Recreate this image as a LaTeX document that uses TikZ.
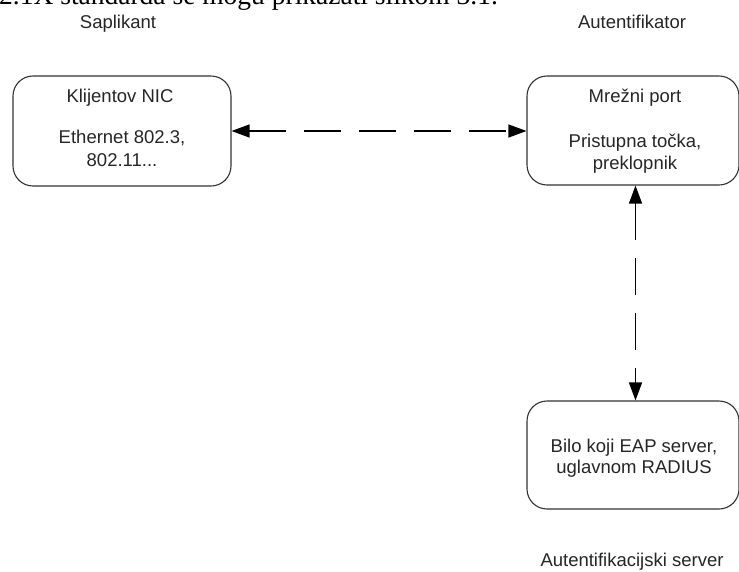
\documentclass[tikz,border=0pt]{standalone}
\usepackage{fontspec}
\setmainfont{Liberation Sans}
\newfontfamily\serifcap{Liberation Serif}
\usetikzlibrary{arrows.meta}
\tikzset{
  x=1pt, y=-1pt,
  boxshape/.style={draw=black!80, line width=1.1pt, rounded corners=20pt, inner sep=0pt},
  txt/.style={font=\fontsize{18.5}{22}\selectfont, text=black!85, inner sep=0pt, anchor=base},
  conn/.style={draw=black, line width=1.4pt, dash pattern=on 37pt off 18pt,
    {Triangle[length=18pt,width=13pt]}-{Triangle[length=18pt,width=13pt]}}
}
\begin{document}
\begin{tikzpicture}
\clip (0,0) rectangle (739,571);
\useasboundingbox (0,0) rectangle (739,571);
\fill[white] (0,0) rectangle (739,571);
% clipped running text from the page above
\node[font=\serifcap\fontsize{27.5}{31}\selectfont, inner sep=0pt, anchor=base west] (top) at (-1,4) {2.1X standarda se mogu prikazati slikom 3.1.};
% boxes
\node[boxshape, minimum width=218pt, minimum height=110pt] (sup) at (122,131) {};
\node[boxshape, minimum width=212pt, minimum height=109pt] (aut) at (633,130.5) {};
\node[boxshape, minimum width=212pt, minimum height=108pt] (srv) at (633,455) {};
% headings
\node[txt] (tsup) at (118,28) {Saplikant};
\node[txt] (taut) at (632,28) {Autentifikator};
\node[txt] (tsrv) at (632,566) {Autentifikacijski server};
% box texts
\node[txt] (s1) at (120,102) {Klijentov NIC};
\node[txt] (s2) at (122,143) {Ethernet 802.3,};
\node[txt] (s3) at (122,166) {802.11...};
\node[txt] (a1) at (635,102) {Mrežni port};
\node[txt] (a2) at (635,147) {Pristupna točka,};
\node[txt] (a3) at (635,169) {preklopnik};
\node[txt] (r1) at (634,452) {Bilo koji EAP server,};
\node[txt] (r2) at (634,473) {uglavnom RADIUS};
% connectors
\draw[conn] (sup.east) -- (sup.east -| aut.west);
\draw[conn] ([xshift=2.5pt]aut.south) -- ([xshift=2.5pt]srv.north);
\end{tikzpicture}
\end{document}
